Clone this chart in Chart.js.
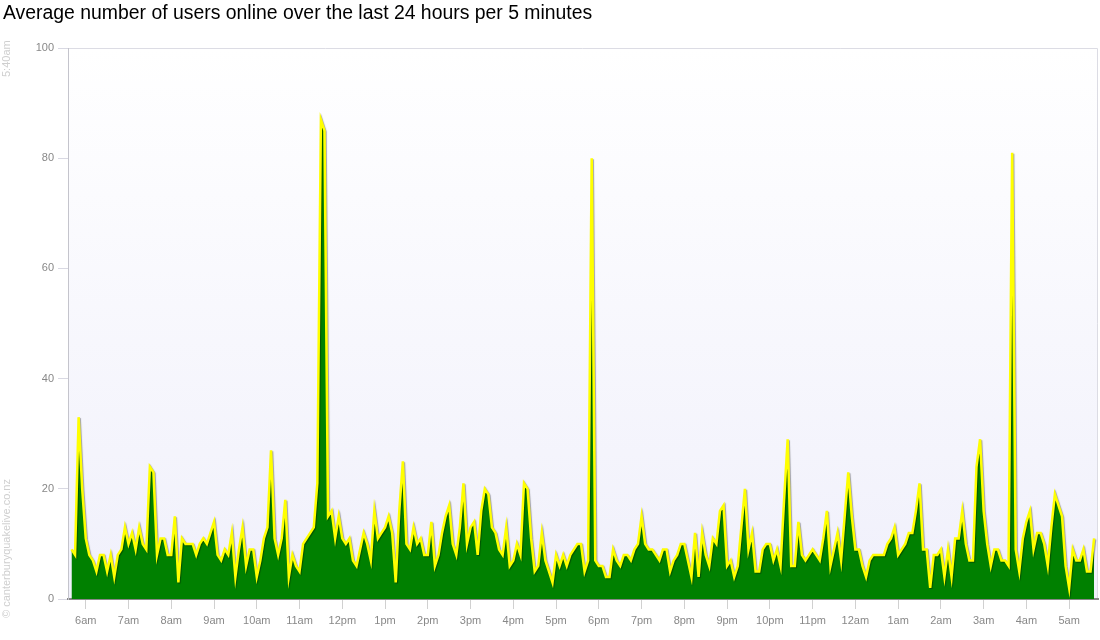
<!DOCTYPE html>
<html>
<head>
<meta charset="utf-8">
<script src="https://cdn.jsdelivr.net/npm/chart.js@4"></script>
<style>
html,body{margin:0;padding:0;background:#fff;}
#wrap{position:relative;width:1100px;height:640px;}
</style>
</head>
<body>
<div id="wrap"><canvas id="c" width="1100" height="640"></canvas></div>
<script>
const titleText = 'Average number of users online over the last 24 hours per 5 minutes';
const startLabel = '5:40am';
const copyrightText = '© canterburyquakelive.co.nz';

// average users online, one value per 5 minutes, starting 5:40am
const usersOnline = [
  9, 8, 33, 20, 11, 8, 7, 5, 8, 8,
  5, 8, 4, 8, 9, 13, 10, 12, 9, 13,
  10, 9, 24, 23, 8, 11, 11, 8, 8, 15,
  3, 11, 10, 10, 10, 8, 10, 11, 10, 12,
  14, 8, 7, 9, 8, 12, 4, 9, 13, 6,
  9, 9, 4, 7, 11, 13, 27, 11, 8, 11,
  18, 4, 8, 6, 5, 10, 11, 12, 13, 21,
  87, 85, 15, 16, 11, 15, 11, 10, 11, 7,
  6, 9, 12, 10, 7, 16, 11, 12, 13, 15,
  12, 3, 16, 25, 10, 9, 13, 10, 11, 8,
  8, 14, 6, 8, 12, 15, 17, 10, 8, 13,
  21, 10, 13, 14, 8, 16, 20, 19, 13, 12,
  9, 8, 13, 6, 7, 10, 8, 21, 20, 11,
  5, 6, 12, 7, 5, 3, 8, 6, 8, 6,
  8, 9, 10, 10, 5, 7, 80, 7, 6, 6,
  4, 4, 9, 7, 6, 8, 8, 7, 9, 10,
  15, 10, 9, 9, 8, 7, 9, 9, 5, 7,
  8, 10, 10, 7, 4, 12, 4, 12, 8, 6,
  11, 10, 16, 17, 6, 7, 4, 6, 13, 20,
  9, 12, 5, 5, 9, 10, 10, 7, 9, 6,
  18, 29, 6, 6, 14, 8, 7, 8, 9, 8,
  7, 11, 16, 6, 9, 12, 7, 15, 23, 15,
  9, 9, 6, 4, 7, 8, 8, 8, 8, 10,
  11, 13, 8, 9, 10, 12, 12, 16, 21, 9,
  9, 2, 8, 8, 9, 4, 9, 4, 11, 11,
  16, 10, 7, 7, 24, 29, 16, 10, 6, 9,
  9, 7, 7, 6, 81, 9, 5, 11, 14, 16,
  9, 12, 12, 10, 6, 13, 19, 17, 15, 6,
  2, 9, 7, 7, 9, 5, 5, 11
];

// x-axis hour ticks: index into usersOnline and text
const hourTickIndex = [4,16,28,40,52,64,76,88,100,112,124,136,148,160,172,184,196,208,220,232,244,256,268,280];
const hourTickLabels = ['6am','7am','8am','9am','10am','11am','12pm','1pm','2pm','3pm','4pm','5pm',
                        '6pm','7pm','8pm','9pm','10pm','11pm','12am','1am','2am','3am','4am','5am'];
const yMin = 0, yMax = 100, yStep = 20;

const FONT = "'Liberation Sans', Arial, Helvetica, sans-serif";

const decorPlugin = {
  id: 'decor',
  beforeDraw(chart) {
    const { ctx, chartArea: a } = chart;
    ctx.save();
    const g = ctx.createLinearGradient(0, a.top, 0, a.bottom);
    g.addColorStop(0, '#ffffff');
    g.addColorStop(1, '#f0f0fb');
    ctx.fillStyle = g;
    ctx.fillRect(a.left, a.top, a.right - a.left, a.bottom - a.top);
    ctx.strokeStyle = '#dcdce4';
    ctx.lineWidth = 1;
    ctx.beginPath();
    ctx.moveTo(a.left, a.top + 0.5);
    ctx.lineTo(a.right - 0.5, a.top + 0.5);
    ctx.lineTo(a.right - 0.5, a.bottom);
    ctx.stroke();
    ctx.restore();
  },
  beforeDatasetDraw(chart) {
    const ctx = chart.ctx;
    ctx.save();
    ctx.shadowColor = 'rgba(0,0,0,0.35)';
    ctx.shadowOffsetX = 1;
    ctx.shadowOffsetY = 1;
    ctx.shadowBlur = 1;
  },
  afterDatasetDraw(chart) {
    chart.ctx.restore();
  },
  afterDraw(chart) {
    const { ctx } = chart;
    ctx.save();
    ctx.fillStyle = '#000';
    ctx.font = '19.4px ' + FONT;
    ctx.textBaseline = 'alphabetic';
    ctx.textAlign = 'left';
    ctx.fillText(titleText, 3, 19);
    ctx.fillStyle = '#cfcfcf';
    ctx.font = '11px ' + FONT;
    ctx.save();
    ctx.translate(10, 77);
    ctx.rotate(-Math.PI / 2);
    ctx.fillText(startLabel, 0, 0);
    ctx.restore();
    ctx.save();
    ctx.translate(10, 618);
    ctx.rotate(-Math.PI / 2);
    ctx.fillText(copyrightText, 0, 0);
    ctx.restore();
    ctx.restore();
  }
};

new Chart(document.getElementById('c'), {
  type: 'line',
  data: {
    datasets: [{
      data: usersOnline.map((v, i) => ({ x: i, y: v })),
      borderColor: '#ffff00',
      borderWidth: 2.5,
      backgroundColor: '#008000',
      fill: 'origin',
      pointRadius: 0,
      tension: 0
    }]
  },
  options: {
    responsive: false,
    animation: false,
    layout: { padding: { top: 48, right: 2, left: 0, bottom: 0 } },
    plugins: { legend: { display: false }, title: { display: false }, tooltip: { enabled: false } },
    scales: {
      x: {
        type: 'linear',
        min: -0.98,
        max: 288.1,
        afterFit(s) { s.height = 41; },
        afterBuildTicks(s) { s.ticks = hourTickIndex.map(v => ({ value: v })); },
        ticks: {
          autoSkip: false, maxRotation: 0, minRotation: 0,
          color: '#888', padding: 5,
          font: { family: FONT, size: 11 },
          callback: (v) => hourTickLabels[hourTickIndex.indexOf(v)]
        },
        grid: { drawOnChartArea: false, drawTicks: true, tickLength: 10, color: '#d0d0d0' },
        border: { color: '#888', width: 2 }
      },
      y: {
        min: yMin, max: yMax,
        afterFit(s) { s.width = 68; },
        ticks: { stepSize: yStep, color: '#888', padding: 4, font: { family: FONT, size: 11 } },
        grid: { drawOnChartArea: false, drawTicks: true, tickLength: 10, color: '#d8d8e2' },
        border: { color: '#c4c4cc' }
      }
    }
  },
  plugins: [decorPlugin]
});
</script>
</body>
</html>
